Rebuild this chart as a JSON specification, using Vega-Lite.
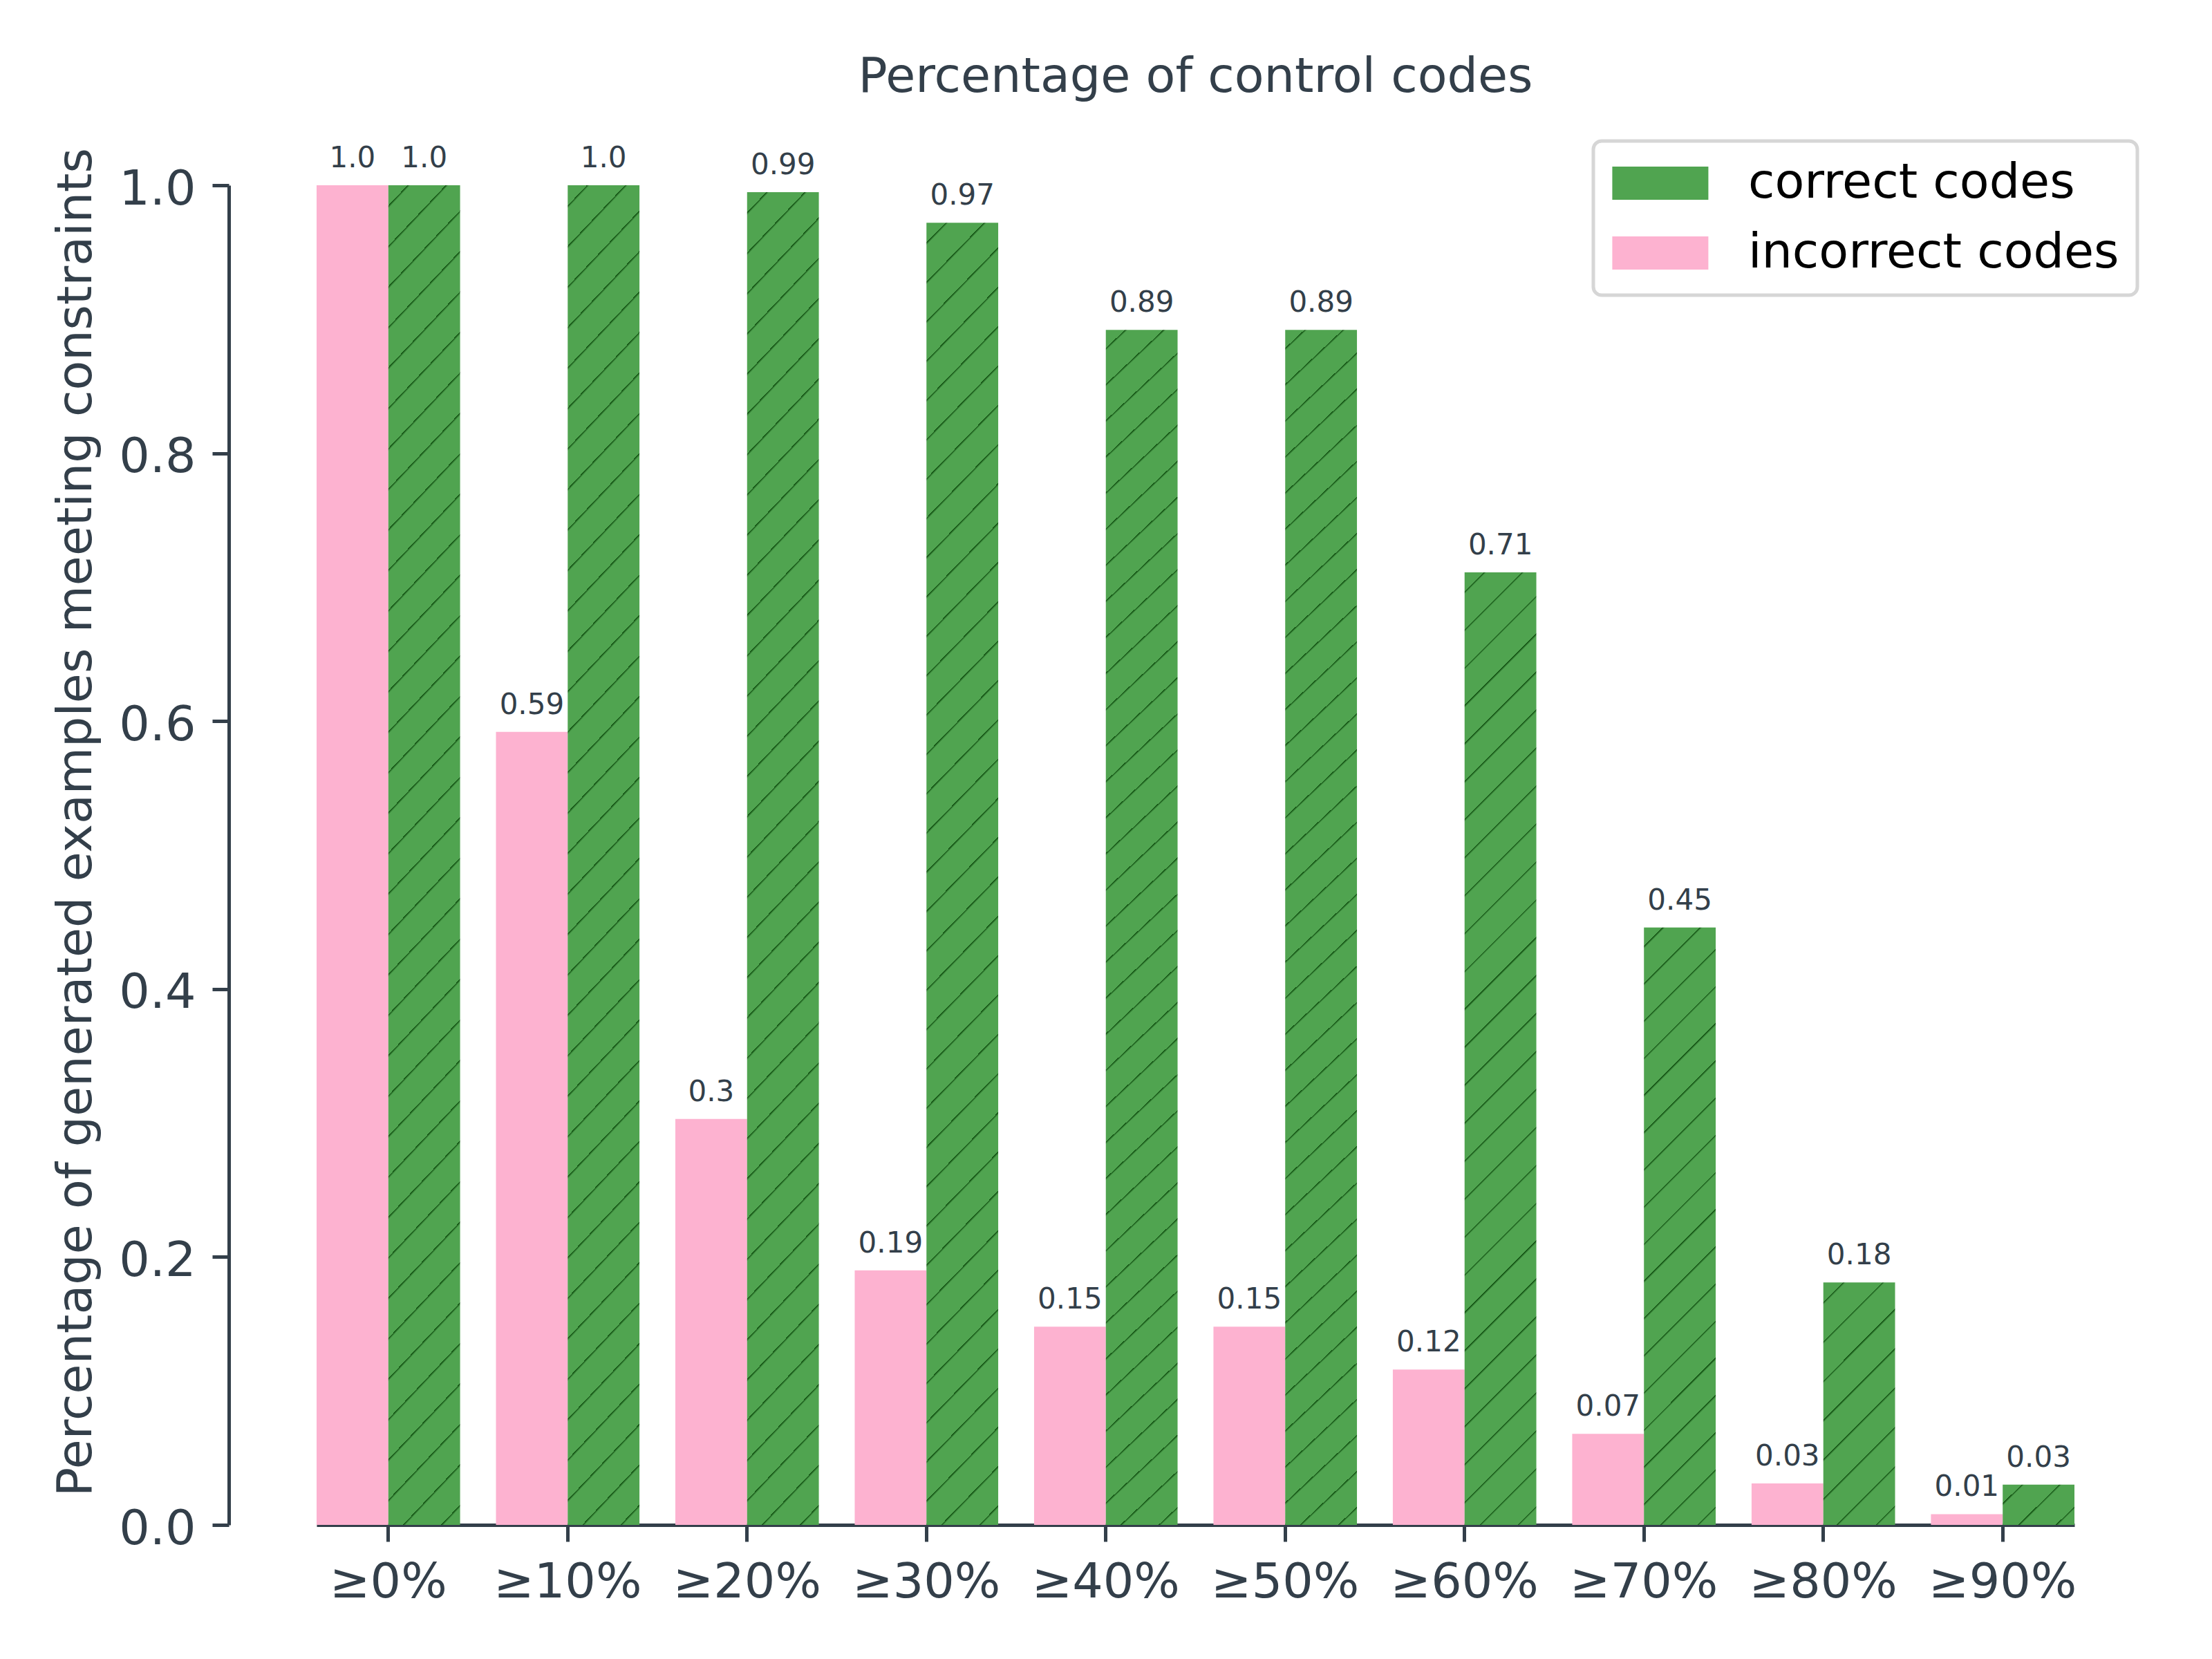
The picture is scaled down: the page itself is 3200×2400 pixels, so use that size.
{
  "$schema": "https://vega.github.io/schema/vega-lite/v6.json",
  "width": 2543,
  "height": 1938,
  "autosize": {"type": "none"},
  "padding": {"left": 458, "top": 268, "right": 199, "bottom": 194},
  "background": "white",
  "title": {
    "text": "Percentage of control codes",
    "font": "DejaVu Sans",
    "fontSize": 70,
    "fontWeight": "normal",
    "color": "#333f4a",
    "anchor": "middle",
    "frame": "group",
    "baseline": "alphabetic",
    "offset": -1
  },
  "data": {
    "values": [
      {"threshold": "≥0%", "type": "incorrect codes", "value": 1.0, "label": "1.0"},
      {"threshold": "≥0%", "type": "correct codes", "value": 1.0, "label": "1.0"},
      {"threshold": "≥10%", "type": "incorrect codes", "value": 0.592, "label": "0.59"},
      {"threshold": "≥10%", "type": "correct codes", "value": 1.0, "label": "1.0"},
      {"threshold": "≥20%", "type": "incorrect codes", "value": 0.303, "label": "0.3"},
      {"threshold": "≥20%", "type": "correct codes", "value": 0.9948, "label": "0.99"},
      {"threshold": "≥30%", "type": "incorrect codes", "value": 0.19, "label": "0.19"},
      {"threshold": "≥30%", "type": "correct codes", "value": 0.972, "label": "0.97"},
      {"threshold": "≥40%", "type": "incorrect codes", "value": 0.148, "label": "0.15"},
      {"threshold": "≥40%", "type": "correct codes", "value": 0.892, "label": "0.89"},
      {"threshold": "≥50%", "type": "incorrect codes", "value": 0.148, "label": "0.15"},
      {"threshold": "≥50%", "type": "correct codes", "value": 0.892, "label": "0.89"},
      {"threshold": "≥60%", "type": "incorrect codes", "value": 0.116, "label": "0.12"},
      {"threshold": "≥60%", "type": "correct codes", "value": 0.711, "label": "0.71"},
      {"threshold": "≥70%", "type": "incorrect codes", "value": 0.068, "label": "0.07"},
      {"threshold": "≥70%", "type": "correct codes", "value": 0.446, "label": "0.45"},
      {"threshold": "≥80%", "type": "incorrect codes", "value": 0.031, "label": "0.03"},
      {"threshold": "≥80%", "type": "correct codes", "value": 0.181, "label": "0.18"},
      {"threshold": "≥90%", "type": "incorrect codes", "value": 0.008, "label": "0.01"},
      {"threshold": "≥90%", "type": "correct codes", "value": 0.03, "label": "0.03"}
    ]
  },
  "encoding": {
    "x": {
      "field": "threshold",
      "type": "nominal",
      "sort": null,
      "scale": {"paddingInner": 0.2, "paddingOuter": 0},
      "axis": {"title": null, "labelAngle": 0, "labelPadding": 25, "labelLimit": 0}
    },
    "xOffset": {
      "field": "type",
      "type": "nominal",
      "scale": {"domain": ["incorrect codes", "correct codes"], "paddingInner": 0, "paddingOuter": 0}
    },
    "y": {
      "field": "value",
      "type": "quantitative",
      "scale": {"domain": [0, 1], "nice": false},
      "axis": {
        "title": "Percentage of generated examples meeting constraints",
        "offset": 127,
        "values": [0, 0.2, 0.4, 0.6, 0.8, 1.0],
        "format": ".1f",
        "labelPadding": 24,
        "labelOffset": 6,
        "titleX": -200,
        "titleY": 921,
        "titleAngle": -90,
        "titleAlign": "center",
        "titleBaseline": "alphabetic"
      }
    }
  },
  "layer": [
    {
      "mark": {"type": "bar"},
      "encoding": {
        "color": {
          "field": "type",
          "type": "nominal",
          "scale": {"domain": ["correct codes", "incorrect codes"], "range": ["#50a450", "#fdb2d0"]},
          "condition": [
            {
              "test": "datum.type === 'correct codes' && datum.value > 0.85",
              "value": {
                "gradient": "linear", "x1": 0, "y1": 0, "x2": 0.05975, "y2": 1.05333,
                "stops": [
                  {"offset": 0.01429, "color": "#50a450"}, {"offset": 0.01429, "color": "#0c4a0c"}, {"offset": 0.01639, "color": "#50a450"},
                  {"offset": 0.04286, "color": "#50a450"}, {"offset": 0.04286, "color": "#0c4a0c"}, {"offset": 0.04496, "color": "#50a450"},
                  {"offset": 0.07143, "color": "#50a450"}, {"offset": 0.07143, "color": "#0c4a0c"}, {"offset": 0.07353, "color": "#50a450"},
                  {"offset": 0.1, "color": "#50a450"}, {"offset": 0.1, "color": "#0c4a0c"}, {"offset": 0.1021, "color": "#50a450"},
                  {"offset": 0.12857, "color": "#50a450"}, {"offset": 0.12857, "color": "#0c4a0c"}, {"offset": 0.13067, "color": "#50a450"},
                  {"offset": 0.15714, "color": "#50a450"}, {"offset": 0.15714, "color": "#0c4a0c"}, {"offset": 0.15924, "color": "#50a450"},
                  {"offset": 0.18571, "color": "#50a450"}, {"offset": 0.18571, "color": "#0c4a0c"}, {"offset": 0.18781, "color": "#50a450"},
                  {"offset": 0.21429, "color": "#50a450"}, {"offset": 0.21429, "color": "#0c4a0c"}, {"offset": 0.21639, "color": "#50a450"},
                  {"offset": 0.24286, "color": "#50a450"}, {"offset": 0.24286, "color": "#0c4a0c"}, {"offset": 0.24496, "color": "#50a450"},
                  {"offset": 0.27143, "color": "#50a450"}, {"offset": 0.27143, "color": "#0c4a0c"}, {"offset": 0.27353, "color": "#50a450"},
                  {"offset": 0.3, "color": "#50a450"}, {"offset": 0.3, "color": "#0c4a0c"}, {"offset": 0.3021, "color": "#50a450"},
                  {"offset": 0.32857, "color": "#50a450"}, {"offset": 0.32857, "color": "#0c4a0c"}, {"offset": 0.33067, "color": "#50a450"},
                  {"offset": 0.35714, "color": "#50a450"}, {"offset": 0.35714, "color": "#0c4a0c"}, {"offset": 0.35924, "color": "#50a450"},
                  {"offset": 0.38571, "color": "#50a450"}, {"offset": 0.38571, "color": "#0c4a0c"}, {"offset": 0.38781, "color": "#50a450"},
                  {"offset": 0.41429, "color": "#50a450"}, {"offset": 0.41429, "color": "#0c4a0c"}, {"offset": 0.41639, "color": "#50a450"},
                  {"offset": 0.44286, "color": "#50a450"}, {"offset": 0.44286, "color": "#0c4a0c"}, {"offset": 0.44496, "color": "#50a450"},
                  {"offset": 0.47143, "color": "#50a450"}, {"offset": 0.47143, "color": "#0c4a0c"}, {"offset": 0.47353, "color": "#50a450"},
                  {"offset": 0.5, "color": "#50a450"}, {"offset": 0.5, "color": "#0c4a0c"}, {"offset": 0.5021, "color": "#50a450"},
                  {"offset": 0.52857, "color": "#50a450"}, {"offset": 0.52857, "color": "#0c4a0c"}, {"offset": 0.53067, "color": "#50a450"},
                  {"offset": 0.55714, "color": "#50a450"}, {"offset": 0.55714, "color": "#0c4a0c"}, {"offset": 0.55924, "color": "#50a450"},
                  {"offset": 0.58571, "color": "#50a450"}, {"offset": 0.58571, "color": "#0c4a0c"}, {"offset": 0.58781, "color": "#50a450"},
                  {"offset": 0.61429, "color": "#50a450"}, {"offset": 0.61429, "color": "#0c4a0c"}, {"offset": 0.61639, "color": "#50a450"},
                  {"offset": 0.64286, "color": "#50a450"}, {"offset": 0.64286, "color": "#0c4a0c"}, {"offset": 0.64496, "color": "#50a450"},
                  {"offset": 0.67143, "color": "#50a450"}, {"offset": 0.67143, "color": "#0c4a0c"}, {"offset": 0.67353, "color": "#50a450"},
                  {"offset": 0.7, "color": "#50a450"}, {"offset": 0.7, "color": "#0c4a0c"}, {"offset": 0.7021, "color": "#50a450"},
                  {"offset": 0.72857, "color": "#50a450"}, {"offset": 0.72857, "color": "#0c4a0c"}, {"offset": 0.73067, "color": "#50a450"},
                  {"offset": 0.75714, "color": "#50a450"}, {"offset": 0.75714, "color": "#0c4a0c"}, {"offset": 0.75924, "color": "#50a450"},
                  {"offset": 0.78571, "color": "#50a450"}, {"offset": 0.78571, "color": "#0c4a0c"}, {"offset": 0.78781, "color": "#50a450"},
                  {"offset": 0.81429, "color": "#50a450"}, {"offset": 0.81429, "color": "#0c4a0c"}, {"offset": 0.81639, "color": "#50a450"},
                  {"offset": 0.84286, "color": "#50a450"}, {"offset": 0.84286, "color": "#0c4a0c"}, {"offset": 0.84496, "color": "#50a450"},
                  {"offset": 0.87143, "color": "#50a450"}, {"offset": 0.87143, "color": "#0c4a0c"}, {"offset": 0.87353, "color": "#50a450"},
                  {"offset": 0.9, "color": "#50a450"}, {"offset": 0.9, "color": "#0c4a0c"}, {"offset": 0.9021, "color": "#50a450"},
                  {"offset": 0.92857, "color": "#50a450"}, {"offset": 0.92857, "color": "#0c4a0c"}, {"offset": 0.93067, "color": "#50a450"},
                  {"offset": 0.95714, "color": "#50a450"}, {"offset": 0.95714, "color": "#0c4a0c"}, {"offset": 0.95924, "color": "#50a450"},
                  {"offset": 0.98571, "color": "#50a450"}, {"offset": 0.98571, "color": "#0c4a0c"}, {"offset": 0.98781, "color": "#50a450"}
                ]
              }
            },
            {
              "test": "datum.type === 'correct codes' && datum.threshold === '≥60%'",
              "value": {
                "gradient": "linear", "x1": 0, "y1": 0, "x2": 0.08054, "y2": 1.06926,
                "stops": [
                  {"offset": 0.01852, "color": "#50a450"}, {"offset": 0.01852, "color": "#0c4a0c"}, {"offset": 0.02122, "color": "#50a450"},
                  {"offset": 0.05556, "color": "#50a450"}, {"offset": 0.05556, "color": "#0c4a0c"}, {"offset": 0.05826, "color": "#50a450"},
                  {"offset": 0.09259, "color": "#50a450"}, {"offset": 0.09259, "color": "#0c4a0c"}, {"offset": 0.09529, "color": "#50a450"},
                  {"offset": 0.12963, "color": "#50a450"}, {"offset": 0.12963, "color": "#0c4a0c"}, {"offset": 0.13233, "color": "#50a450"},
                  {"offset": 0.16667, "color": "#50a450"}, {"offset": 0.16667, "color": "#0c4a0c"}, {"offset": 0.16937, "color": "#50a450"},
                  {"offset": 0.2037, "color": "#50a450"}, {"offset": 0.2037, "color": "#0c4a0c"}, {"offset": 0.2064, "color": "#50a450"},
                  {"offset": 0.24074, "color": "#50a450"}, {"offset": 0.24074, "color": "#0c4a0c"}, {"offset": 0.24344, "color": "#50a450"},
                  {"offset": 0.27778, "color": "#50a450"}, {"offset": 0.27778, "color": "#0c4a0c"}, {"offset": 0.28048, "color": "#50a450"},
                  {"offset": 0.31481, "color": "#50a450"}, {"offset": 0.31481, "color": "#0c4a0c"}, {"offset": 0.31751, "color": "#50a450"},
                  {"offset": 0.35185, "color": "#50a450"}, {"offset": 0.35185, "color": "#0c4a0c"}, {"offset": 0.35455, "color": "#50a450"},
                  {"offset": 0.38889, "color": "#50a450"}, {"offset": 0.38889, "color": "#0c4a0c"}, {"offset": 0.39159, "color": "#50a450"},
                  {"offset": 0.42593, "color": "#50a450"}, {"offset": 0.42593, "color": "#0c4a0c"}, {"offset": 0.42863, "color": "#50a450"},
                  {"offset": 0.46296, "color": "#50a450"}, {"offset": 0.46296, "color": "#0c4a0c"}, {"offset": 0.46566, "color": "#50a450"},
                  {"offset": 0.5, "color": "#50a450"}, {"offset": 0.5, "color": "#0c4a0c"}, {"offset": 0.5027, "color": "#50a450"},
                  {"offset": 0.53704, "color": "#50a450"}, {"offset": 0.53704, "color": "#0c4a0c"}, {"offset": 0.53974, "color": "#50a450"},
                  {"offset": 0.57407, "color": "#50a450"}, {"offset": 0.57407, "color": "#0c4a0c"}, {"offset": 0.57677, "color": "#50a450"},
                  {"offset": 0.61111, "color": "#50a450"}, {"offset": 0.61111, "color": "#0c4a0c"}, {"offset": 0.61381, "color": "#50a450"},
                  {"offset": 0.64815, "color": "#50a450"}, {"offset": 0.64815, "color": "#0c4a0c"}, {"offset": 0.65085, "color": "#50a450"},
                  {"offset": 0.68519, "color": "#50a450"}, {"offset": 0.68519, "color": "#0c4a0c"}, {"offset": 0.68789, "color": "#50a450"},
                  {"offset": 0.72222, "color": "#50a450"}, {"offset": 0.72222, "color": "#0c4a0c"}, {"offset": 0.72492, "color": "#50a450"},
                  {"offset": 0.75926, "color": "#50a450"}, {"offset": 0.75926, "color": "#0c4a0c"}, {"offset": 0.76196, "color": "#50a450"},
                  {"offset": 0.7963, "color": "#50a450"}, {"offset": 0.7963, "color": "#0c4a0c"}, {"offset": 0.799, "color": "#50a450"},
                  {"offset": 0.83333, "color": "#50a450"}, {"offset": 0.83333, "color": "#0c4a0c"}, {"offset": 0.83603, "color": "#50a450"},
                  {"offset": 0.87037, "color": "#50a450"}, {"offset": 0.87037, "color": "#0c4a0c"}, {"offset": 0.87307, "color": "#50a450"},
                  {"offset": 0.90741, "color": "#50a450"}, {"offset": 0.90741, "color": "#0c4a0c"}, {"offset": 0.91011, "color": "#50a450"},
                  {"offset": 0.94444, "color": "#50a450"}, {"offset": 0.94444, "color": "#0c4a0c"}, {"offset": 0.94714, "color": "#50a450"},
                  {"offset": 0.98148, "color": "#50a450"}, {"offset": 0.98148, "color": "#0c4a0c"}, {"offset": 0.98418, "color": "#50a450"}
                ]
              }
            },
            {
              "test": "datum.type === 'correct codes' && datum.threshold === '≥70%'",
              "value": {
                "gradient": "linear", "x1": 0, "y1": 0, "x2": 0.13266, "y2": 1.1042,
                "stops": [
                  {"offset": 0.02778, "color": "#50a450"}, {"offset": 0.02778, "color": "#0c4a0c"}, {"offset": 0.03188, "color": "#50a450"},
                  {"offset": 0.08333, "color": "#50a450"}, {"offset": 0.08333, "color": "#0c4a0c"}, {"offset": 0.08743, "color": "#50a450"},
                  {"offset": 0.13889, "color": "#50a450"}, {"offset": 0.13889, "color": "#0c4a0c"}, {"offset": 0.14299, "color": "#50a450"},
                  {"offset": 0.19444, "color": "#50a450"}, {"offset": 0.19444, "color": "#0c4a0c"}, {"offset": 0.19854, "color": "#50a450"},
                  {"offset": 0.25, "color": "#50a450"}, {"offset": 0.25, "color": "#0c4a0c"}, {"offset": 0.2541, "color": "#50a450"},
                  {"offset": 0.30556, "color": "#50a450"}, {"offset": 0.30556, "color": "#0c4a0c"}, {"offset": 0.30966, "color": "#50a450"},
                  {"offset": 0.36111, "color": "#50a450"}, {"offset": 0.36111, "color": "#0c4a0c"}, {"offset": 0.36521, "color": "#50a450"},
                  {"offset": 0.41667, "color": "#50a450"}, {"offset": 0.41667, "color": "#0c4a0c"}, {"offset": 0.42077, "color": "#50a450"},
                  {"offset": 0.47222, "color": "#50a450"}, {"offset": 0.47222, "color": "#0c4a0c"}, {"offset": 0.47632, "color": "#50a450"},
                  {"offset": 0.52778, "color": "#50a450"}, {"offset": 0.52778, "color": "#0c4a0c"}, {"offset": 0.53188, "color": "#50a450"},
                  {"offset": 0.58333, "color": "#50a450"}, {"offset": 0.58333, "color": "#0c4a0c"}, {"offset": 0.58743, "color": "#50a450"},
                  {"offset": 0.63889, "color": "#50a450"}, {"offset": 0.63889, "color": "#0c4a0c"}, {"offset": 0.64299, "color": "#50a450"},
                  {"offset": 0.69444, "color": "#50a450"}, {"offset": 0.69444, "color": "#0c4a0c"}, {"offset": 0.69854, "color": "#50a450"},
                  {"offset": 0.75, "color": "#50a450"}, {"offset": 0.75, "color": "#0c4a0c"}, {"offset": 0.7541, "color": "#50a450"},
                  {"offset": 0.80556, "color": "#50a450"}, {"offset": 0.80556, "color": "#0c4a0c"}, {"offset": 0.80966, "color": "#50a450"},
                  {"offset": 0.86111, "color": "#50a450"}, {"offset": 0.86111, "color": "#0c4a0c"}, {"offset": 0.86521, "color": "#50a450"},
                  {"offset": 0.91667, "color": "#50a450"}, {"offset": 0.91667, "color": "#0c4a0c"}, {"offset": 0.92077, "color": "#50a450"},
                  {"offset": 0.97222, "color": "#50a450"}, {"offset": 0.97222, "color": "#0c4a0c"}, {"offset": 0.97632, "color": "#50a450"}
                ]
              }
            },
            {
              "test": "datum.type === 'correct codes' && datum.threshold === '≥80%'",
              "value": {
                "gradient": "linear", "x1": 0, "y1": 0, "x2": 0.35344, "y2": 1.19176,
                "stops": [
                  {"offset": 0.0625, "color": "#50a450"}, {"offset": 0.0625, "color": "#0c4a0c"}, {"offset": 0.0713, "color": "#50a450"},
                  {"offset": 0.1875, "color": "#50a450"}, {"offset": 0.1875, "color": "#0c4a0c"}, {"offset": 0.1963, "color": "#50a450"},
                  {"offset": 0.3125, "color": "#50a450"}, {"offset": 0.3125, "color": "#0c4a0c"}, {"offset": 0.3213, "color": "#50a450"},
                  {"offset": 0.4375, "color": "#50a450"}, {"offset": 0.4375, "color": "#0c4a0c"}, {"offset": 0.4463, "color": "#50a450"},
                  {"offset": 0.5625, "color": "#50a450"}, {"offset": 0.5625, "color": "#0c4a0c"}, {"offset": 0.5713, "color": "#50a450"},
                  {"offset": 0.6875, "color": "#50a450"}, {"offset": 0.6875, "color": "#0c4a0c"}, {"offset": 0.6963, "color": "#50a450"},
                  {"offset": 0.8125, "color": "#50a450"}, {"offset": 0.8125, "color": "#0c4a0c"}, {"offset": 0.8213, "color": "#50a450"},
                  {"offset": 0.9375, "color": "#50a450"}, {"offset": 0.9375, "color": "#0c4a0c"}, {"offset": 0.9463, "color": "#50a450"}
                ]
              }
            },
            {
              "test": "datum.type === 'correct codes' && datum.threshold === '≥90%'",
              "value": {
                "gradient": "linear", "x1": 0, "y1": 0, "x2": 1.18573, "y2": 0.67282,
                "stops": [
                  {"offset": 0.16667, "color": "#50a450"}, {"offset": 0.16667, "color": "#0c4a0c"}, {"offset": 0.19117, "color": "#50a450"},
                  {"offset": 0.5, "color": "#50a450"}, {"offset": 0.5, "color": "#0c4a0c"}, {"offset": 0.5245, "color": "#50a450"},
                  {"offset": 0.83333, "color": "#50a450"}, {"offset": 0.83333, "color": "#0c4a0c"}, {"offset": 0.85783, "color": "#50a450"}
                ]
              }
            }
          ],
          "legend": {
            "title": null,
            "orient": "none",
            "legendX": 1847,
            "legendY": -64,
            "direction": "vertical",
            "padding": 26,
            "rowPadding": 31,
            "labelFont": "DejaVu Sans",
            "labelFontSize": 70,
            "labelColor": "black",
            "labelLimit": 0,
            "labelOffset": 128,
            "symbolType": "M-1.4,-1H4.392V1H-1.4Z",
            "symbolSize": 2304,
            "symbolStrokeWidth": 0,
            "symbolOpacity": 1,
            "strokeColor": "#d6d6d6",
            "fillColor": "white",
            "cornerRadius": 12,
            "encode": {
              "legend": {"update": {"strokeWidth": {"value": 5}}}
            }
          }
        }
      }
    },
    {
      "mark": {
        "type": "text",
        "dy": -26,
        "baseline": "alphabetic",
        "align": "center",
        "font": "DejaVu Sans",
        "fontSize": 42,
        "color": "#333f4a"
      },
      "encoding": {
        "text": {"field": "label", "type": "nominal"}
      }
    }
  ],
  "config": {
    "view": {"stroke": null},
    "axis": {
      "grid": false,
      "domainColor": "#333f4a",
      "domainWidth": 5,
      "tickColor": "#333f4a",
      "tickWidth": 5,
      "tickSize": 24,
      "labelFont": "DejaVu Sans",
      "labelFontSize": 70,
      "labelColor": "#333f4a",
      "titleFont": "DejaVu Sans",
      "titleFontSize": 70,
      "titleFontWeight": "normal",
      "titleColor": "#333f4a"
    }
  }
}
